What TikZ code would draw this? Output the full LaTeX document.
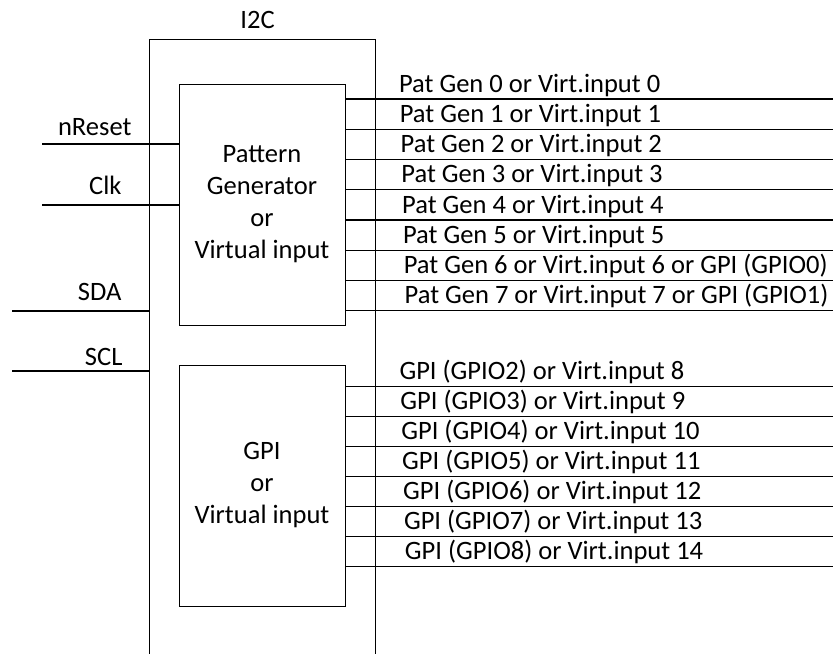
\documentclass[tikz,border=0pt]{standalone}
\usepackage{fontspec}
\setmainfont{Carlito}
\usetikzlibrary{positioning}

\begin{document}
\begin{tikzpicture}[x=0.75pt,y=-0.75pt,line width=0.8pt,
  font=\fontsize{19.9}{24}\selectfont]
\tikzstyle{blk}=[draw,line width=0.7pt,inner sep=0pt,minimum width=124.5pt,minimum height=180.75pt,align=center]
\tikzstyle{sig}=[line width=0.9pt]
\tikzstyle{lbl}=[inner sep=0pt]
\useasboundingbox (0,0) rectangle (833,654);
\clip (0,0) rectangle (833,654);
% outer I2C block, open at the bottom of the page
\node[blk,minimum width=169.5pt,minimum height=495.75pt] (i2c) at (262,369.5) {};
\node[lbl,anchor=base] (i2clbl) at (257.5,28) {I2C};
\node[blk] (patgen) at (262,204.5) {Pattern\\Generator\\or\\Virtual input};
\node[blk] (gpi) at (262,485.5) {GPI\\or\\Virtual input};
% inputs
\coordinate (rst) at (42,144);
\coordinate (clk) at (42,205);
\coordinate (sda) at (12,311);
\coordinate (scl) at (12,371);
\draw[sig] (rst) -- (rst -| patgen.west);
\draw[sig] (clk) -- (clk -| patgen.west);
\draw[sig] (sda) -- (sda -| i2c.west);
\draw[sig] (scl) -- (scl -| i2c.west);
\node[lbl,anchor=base east] (rstlbl) at (132,135) {nReset};
\node[lbl,anchor=base east] (clklbl) at (122,194) {Clk};
\node[lbl,anchor=base east] (sdalbl) at (122,300) {SDA};
\node[lbl,anchor=base east] (scllbl) at (123,365) {SCL};
% pattern generator outputs
\foreach \i in {0,...,7}{
  \coordinate (pg\i) at (833,99+30.25*\i);
  \draw[sig] (pg\i -| patgen.east) -- (pg\i);
}
\foreach \i in {0,...,5}
  \node[lbl,anchor=base west] (pgl\i) at (398.5+0.8*\i,92+30.25*\i) {Pat Gen \i{} or Virt.input \i};
\foreach \i [evaluate=\i as \j using int(\i-6)] in {6,7}
  \node[lbl,anchor=base west] (pgl\i) at (398.5+0.8*\i,92+30.25*\i) {Pat Gen \i{} or Virt.input \i{} or GPI (GPIO\j)};
% gpi outputs
\foreach \i [evaluate=\i as \k using int(\i+2), evaluate=\i as \n using int(\i+8)] in {0,...,6}{
  \coordinate (gp\i) at (833,386.7+30*\i);
  \draw[sig] (gp\i -| gpi.east) -- (gp\i);
  \node[lbl,anchor=base west] (gpl\i) at (399+0.9*\i,379.7+30*\i) {GPI (GPIO\k) or Virt.input \n};
}
\end{tikzpicture}
\end{document}
